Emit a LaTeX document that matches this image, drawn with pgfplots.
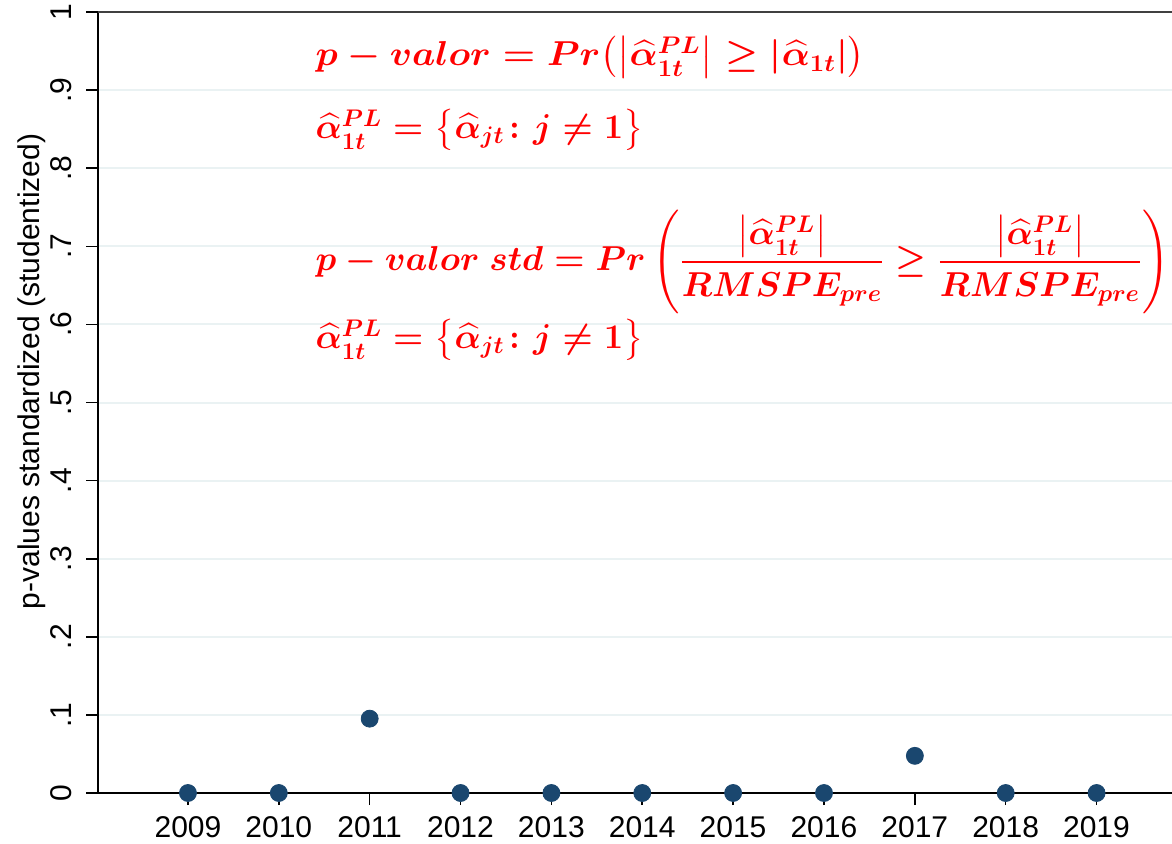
\documentclass[border=0pt]{standalone}
\usepackage{amsmath}
\usepackage{graphicx}
\usepackage{fontspec}
\setmainfont{Liberation Sans}
\usepackage{pgfplots}
\pgfplotsset{compat=1.18}

\definecolor{statanavy}{HTML}{1A476F}
\definecolor{gridc}{HTML}{EAF2F3}

\newcommand{\ahat}{\widehat{\alpha}}

\begin{document}
\begin{tikzpicture}
\begin{axis}[
  scale only axis, width=537pt, height=390.5pt,
  xmin=2008.01, xmax=2019.83, ymin=0, ymax=1,
  clip=false,
  axis x line=bottom, axis y line=left,
  axis line style={-, line width=1pt, black},
  tick align=outside, major tick length=6pt,
  tick style={black, line width=0.8pt},
  xtick={2009,...,2019},
  xticklabels={2009,2010,2011,2012,2013,2014,2015,2016,2017,2018,2019},
  ytick={0,0.1,...,1.01},
  yticklabels={0,.1,.2,.3,.4,.5,.6,.7,.8,.9,1},
  ymajorgrids, grid style={gridc, line width=1pt},
  tick label style={font=\fontsize{15}{18}\selectfont},
  yticklabel style={rotate=90, anchor=south, inner sep=0pt, yshift=7pt},
  xticklabel style={inner sep=0pt, yshift=-5.5pt},
  ylabel={p-values standardized (studentized)},
  ylabel style={font=\fontsize{15}{18}\selectfont, inner sep=0pt,
    at={(rel axis cs:0,0.5)}, anchor=center, yshift=33pt, xshift=15.5pt},
]
\coordinate (sw) at (rel axis cs:0,0);
\coordinate (ne) at (rel axis cs:1,1);
\draw[line width=0.6pt, black!75] (rel axis cs:0,1) -- (rel axis cs:1,1);

\addplot[only marks, mark=*, mark size=4.25pt, color=statanavy, fill=statanavy]
  coordinates {
    (2009,0) (2010,0) (2011,0.0952) (2012,0) (2013,0) (2014,0)
    (2015,0) (2016,0) (2017,0.0476) (2018,0) (2019,0)
  };

\tikzset{formula/.style={anchor=west, text=red, inner sep=0pt,
  font=\boldmath\fontsize{18}{22}\selectfont}}
\node[formula] at (axis cs:2010.40,0.942)
  {\scalebox{1.07}[1]{$p-valor=Pr\bigl(\bigl|\ahat^{PL}_{1t}\bigr|\geq|\ahat_{1t}|\bigr)$}};
\node[formula] at (axis cs:2010.40,0.849)
  {$\ahat^{PL}_{1t}=\bigl\{\ahat_{jt}\colon j\neq 1\bigr\}$};
\node[formula] at (axis cs:2010.40,0.680)
  {$p-valor\ std=Pr\left(\dfrac{\bigl|\ahat^{PL}_{1t}\bigr|}{RMSPE_{pre}}\geq\dfrac{\bigl|\ahat^{PL}_{1t}\bigr|}{RMSPE_{pre}}\right)$};
\node[formula] at (axis cs:2010.40,0.580)
  {$\ahat^{PL}_{1t}=\bigl\{\ahat_{jt}\colon j\neq 1\bigr\}$};
\end{axis}
\pgfresetboundingbox
\path ([shift={(-49pt,-25pt)}]sw) rectangle ([shift={(0pt,6pt)}]ne);
\end{tikzpicture}
\end{document}
